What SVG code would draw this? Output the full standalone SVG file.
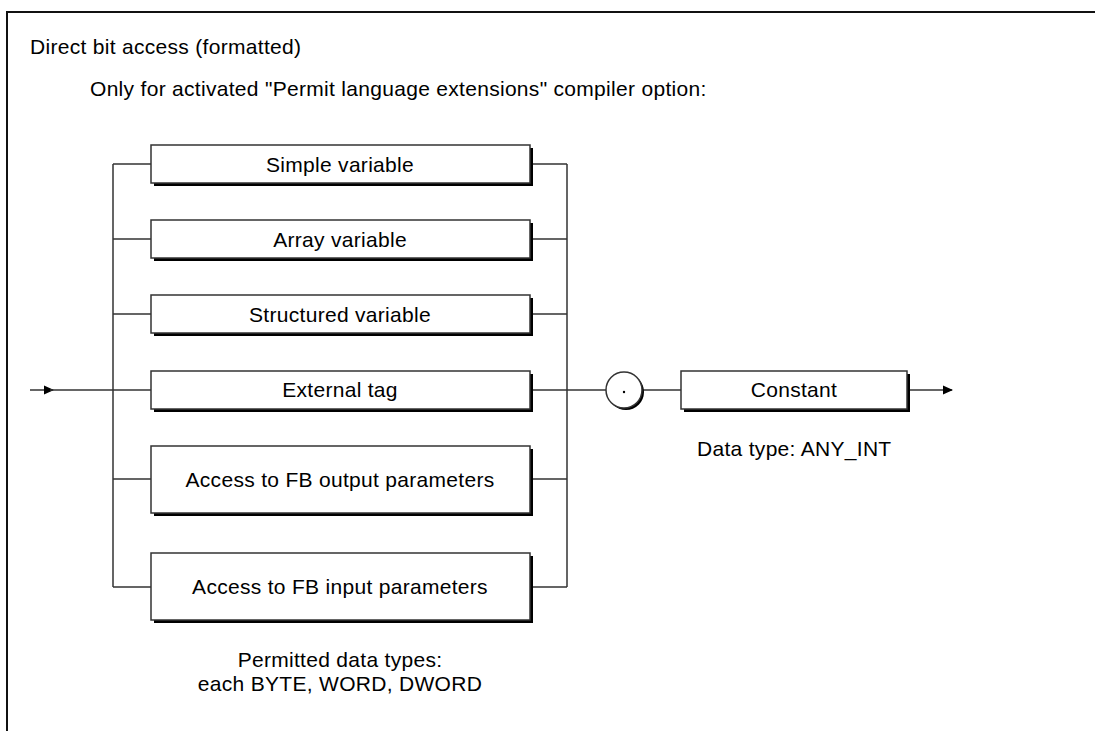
<svg xmlns="http://www.w3.org/2000/svg" width="1095" height="731" viewBox="0 0 1095 731">
<defs>
<style>
.t{font-family:"Liberation Sans",Arial,sans-serif;font-size:21px;letter-spacing:0.3px;fill:#000}
.c{text-anchor:middle}
.box{fill:#fff;stroke:#333;stroke-width:1.5}
.sh{fill:#000}
.ln{fill:none;stroke:#333;stroke-width:1.5}
</style>
<marker id="arr" markerWidth="10" markerHeight="10" refX="9" refY="5" orient="auto" markerUnits="userSpaceOnUse">
<path d="M0,0.5 L10,5 L0,9.5 Z" fill="#000"/>
</marker>
</defs>
<rect width="1095" height="731" fill="#fff"/>
<rect x="7" y="12" width="1100" height="730" fill="none" stroke="#111" stroke-width="2"/>
<text class="t" x="30" y="54">Direct bit access (formatted)</text>
<text class="t" x="90" y="96">Only for activated "Permit language extensions" compiler option:</text>

<g id="connectors">
<path class="ln" d="M113,164 V587 M567,164 V587"/>
<path class="ln" d="M113,164 H151 M113,239 H151 M113,314 H151 M113,479 H151 M113,587 H151"/>
<path class="ln" d="M530,164 H567 M530,239 H567 M530,314 H567 M530,479 H567 M530,587 H567"/>
<path class="ln" d="M30,390 H53" marker-end="url(#arr)"/>
<path class="ln" d="M50,390 H151"/>
<path class="ln" d="M530,390 H606"/>
<path class="ln" d="M642,390 H681"/>
<path class="ln" d="M907,390 H952" marker-end="url(#arr)"/>
</g>

<g id="simple">
<rect class="sh" x="154" y="148" width="379" height="38"/>
<rect class="box" x="151" y="145" width="379" height="38"/>
<text class="t c" x="340" y="172">Simple variable</text>
</g>
<g id="array">
<rect class="sh" x="154" y="223" width="379" height="38"/>
<rect class="box" x="151" y="220" width="379" height="38"/>
<text class="t c" x="340" y="247">Array variable</text>
</g>
<g id="structured">
<rect class="sh" x="154" y="298" width="379" height="38"/>
<rect class="box" x="151" y="295" width="379" height="38"/>
<text class="t c" x="340" y="322">Structured variable</text>
</g>
<g id="external">
<rect class="sh" x="154" y="374" width="379" height="38"/>
<rect class="box" x="151" y="371" width="379" height="38"/>
<text class="t c" x="340" y="397">External tag</text>
</g>
<g id="fbout">
<rect class="sh" x="154" y="449" width="379" height="67"/>
<rect class="box" x="151" y="446" width="379" height="67"/>
<text class="t c" x="340" y="487">Access to FB output parameters</text>
</g>
<g id="fbin">
<rect class="sh" x="154" y="556" width="379" height="67"/>
<rect class="box" x="151" y="553" width="379" height="67"/>
<text class="t c" x="340" y="594">Access to FB input parameters</text>
</g>
<g id="dot">
<circle cx="626" cy="392" r="18" fill="#000"/>
<circle class="box" cx="624" cy="390" r="18"/>
<circle cx="624" cy="392" r="1.2" fill="#000"/>
</g>
<g id="constant">
<rect class="sh" x="684" y="374" width="226" height="38"/>
<rect class="box" x="681" y="371" width="226" height="38"/>
<text class="t c" x="794" y="397">Constant</text>
</g>
<text class="t" x="697" y="456">Data type: ANY_INT</text>
<text class="t c" x="340" y="667">Permitted data types:</text>
<text class="t c" x="340" y="691">each BYTE, WORD, DWORD</text>
</svg>
